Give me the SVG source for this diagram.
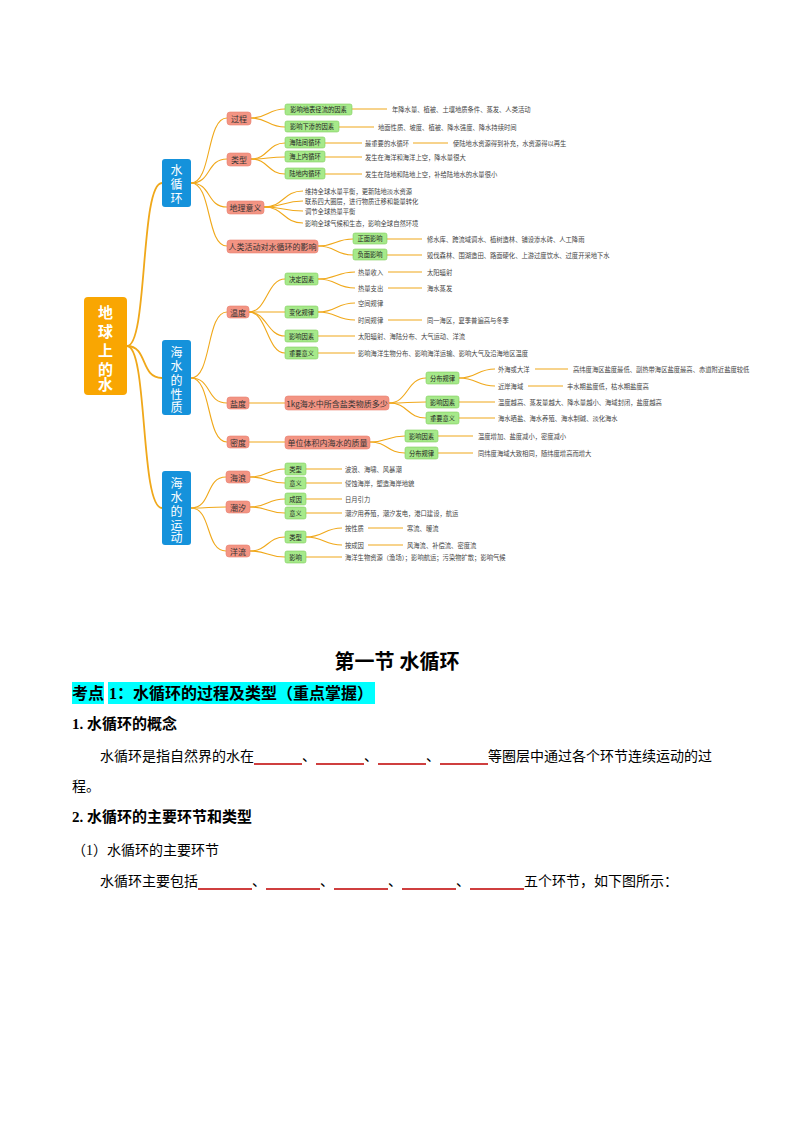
<svg xmlns="http://www.w3.org/2000/svg" width="794" height="1123" viewBox="0 0 794 1123">
<style>
.bg{fill:#fff}
.c{fill:none;stroke:#f0a81a;stroke-width:1.1}
.c2{fill:none;stroke:#f0a81a;stroke-width:1.8}
.root{fill:#f9a602}
.l1{fill:#1592db}
.l2{fill:#f39483;stroke:#e88070;stroke-width:0.6}
.l3{fill:#a6e98a;stroke:#7fcf5d;stroke-width:0.6}
text{font-family:"Noto Sans CJK SC","Liberation Sans",sans-serif}
.tr{fill:#fff;font-size:15px;font-weight:bold;text-anchor:middle}
.t1{fill:#fff;font-size:12px;text-anchor:middle}
.t2{fill:#333;font-size:8px;text-anchor:middle;dominant-baseline:central}
.t3{fill:#222;font-size:6.3px;text-anchor:middle;dominant-baseline:central}
.lf{fill:#444;font-size:6.3px;dominant-baseline:central}
.h{font-family:"Liberation Serif","Noto Sans CJK SC",serif;font-weight:bold;fill:#000}
.p{font-family:"Liberation Serif","Noto Sans CJK SC",serif;fill:#000;font-size:14px}
.u{stroke:#c00000;stroke-width:1.5}
</style>
<rect class="bg" width="794" height="1123"/>
<g id="connectors">
<path class="c2" d="M127 346 C148 346,140 183,162 183"/>
<path class="c2" d="M127 346 C148 346,140 378,162 378"/>
<path class="c2" d="M127 346 C148 346,140 508,162 508"/>
<path class="c" d="M191 183 C212 183,206 118,227 118"/>
<path class="c" d="M191 183 C212 183,206 159,227 159"/>
<path class="c" d="M191 183 C212 183,206 207,227 207"/>
<path class="c" d="M191 183 C212 183,206 246,227 246"/>
<path class="c" d="M251 118 C268 118,268 109,285 109"/>
<path class="c" d="M251 118 C268 118,268 127,285 127"/>
<path class="c" d="M251 159 C268 159,268 143,285 143"/>
<path class="c" d="M251 159 C268 159,268 157,285 157"/>
<path class="c" d="M251 159 C268 159,268 174,285 174"/>
<path class="c" d="M264 207 C284 207,283 191,303 191"/>
<path class="c" d="M264 207 C284 207,283 201,303 201"/>
<path class="c" d="M264 207 C284 207,283 211,303 211"/>
<path class="c" d="M264 207 C284 207,283 223,303 223"/>
<path class="c" d="M318 246 C336 246,335 239,353 239"/>
<path class="c" d="M318 246 C336 246,335 255,353 255"/>
<path class="c" d="M191 378 C212 378,206 312,227 312"/>
<path class="c" d="M191 378 C212 378,206 403,227 403"/>
<path class="c" d="M191 378 C212 378,206 442,227 442"/>
<path class="c" d="M249 312 C267 312,267 279,285 279"/>
<path class="c" d="M249 312 C267 312,267 312,285 312"/>
<path class="c" d="M249 312 C267 312,267 336,285 336"/>
<path class="c" d="M249 312 C267 312,267 353,285 353"/>
<path class="c" d="M318 279 C337 279,336 272,355 272"/>
<path class="c" d="M318 279 C337 279,336 288,355 288"/>
<path class="c" d="M318 312 C337 312,336 303,355 303"/>
<path class="c" d="M318 312 C337 312,336 320,355 320"/>
<path class="c" d="M249 403 L285 403"/>
<path class="c" d="M389 403 C408 403,407 378,426 378"/>
<path class="c" d="M389 403 C408 403,407 402,426 402"/>
<path class="c" d="M389 403 C408 403,407 418,426 418"/>
<path class="c" d="M459 378 C477 378,477 369,495 369"/>
<path class="c" d="M459 378 C477 378,477 386,495 386"/>
<path class="c" d="M249 442 L285 442"/>
<path class="c" d="M370 442 C388 442,387 436,405 436"/>
<path class="c" d="M370 442 C388 442,387 453,405 453"/>
<path class="c" d="M191 508 C212 508,205 477,226 477"/>
<path class="c" d="M191 508 C212 508,205 507,226 507"/>
<path class="c" d="M191 508 C212 508,205 551,226 551"/>
<path class="c" d="M250 477 C268 477,267 469,285 469"/>
<path class="c" d="M250 477 C268 477,267 483,285 483"/>
<path class="c" d="M250 507 C268 507,267 499,285 499"/>
<path class="c" d="M250 507 C268 507,267 513,285 513"/>
<path class="c" d="M250 551 C268 551,267 537,285 537"/>
<path class="c" d="M250 551 C268 551,267 557,285 557"/>
<path class="c" d="M306 537 C324 537,324 528,342 528"/>
<path class="c" d="M306 537 C324 537,324 545,342 545"/>
<path class="c" d="M352 109 H387 M339 127 H374 M325 143 H362 M413 143 H448 M325 157 H362 M325 174 H362 M387 239 H422 M387 255 H422 M388 272 H422 M388 288 H422 M388 320 H422 M318 336 H355 M318 353 H355 M535 369 H568 M528 386 H563 M459 402 H495 M459 418 H495 M438 436 H473 M438 453 H473 M306 469 H342 M306 483 H342 M306 499 H342 M306 513 H342 M306 557 H342 M368 528 H403 M368 545 H403"/>
</g>
<g id="root"><rect class="root" x="84" y="297" width="43" height="98" rx="4"/>
<text class="tr" x="105.5" y="318">地</text><text class="tr" x="105.5" y="337">球</text><text class="tr" x="105.5" y="356">上</text><text class="tr" x="105.5" y="375">的</text><text class="tr" x="105.5" y="392" dy="-2">水</text></g>
<g id="n-shuixunhuan"><rect class="l1" x="162" y="159" width="29" height="48" rx="3"/><text class="t1" x="176.5" y="175">水</text><text class="t1" x="176.5" y="189">循</text><text class="t1" x="176.5" y="203">环</text></g>
<g id="n-xingzhi"><rect class="l1" x="162" y="340" width="29" height="75" rx="3"/><text class="t1" x="176.5" y="357">海</text><text class="t1" x="176.5" y="371">水</text><text class="t1" x="176.5" y="385">的</text><text class="t1" x="176.5" y="399">性</text><text class="t1" x="176.5" y="413" dy="-1">质</text></g>
<g id="n-yundong"><rect class="l1" x="162" y="471" width="29" height="74" rx="3"/><text class="t1" x="176.5" y="488">海</text><text class="t1" x="176.5" y="502">水</text><text class="t1" x="176.5" y="516">的</text><text class="t1" x="176.5" y="530">运</text><text class="t1" x="176.5" y="543" dy="-1">动</text></g>
<g id="l2">
<rect class="l2" x="227" y="112" width="24" height="13" rx="3"/><text class="t2" x="239" y="118.5">过程</text>
<rect class="l2" x="227" y="153" width="24" height="13" rx="3"/><text class="t2" x="239" y="159.5">类型</text>
<rect class="l2" x="227" y="201" width="37" height="13" rx="3"/><text class="t2" x="245.5" y="207.5">地理意义</text>
<rect class="l2" x="227" y="240" width="91" height="13" rx="3"/><text class="t2" x="272.5" y="246.5">人类活动对水循环的影响</text>
<rect class="l2" x="227" y="306" width="22" height="12" rx="3"/><text class="t2" x="238" y="312">温度</text>
<rect class="l2" x="227" y="397" width="22" height="12" rx="3"/><text class="t2" x="238" y="403">盐度</text>
<rect class="l2" x="227" y="436" width="22" height="12" rx="3"/><text class="t2" x="238" y="442">密度</text>
<rect class="l2" x="285" y="396" width="104" height="14" rx="3"/><text class="t2" x="337" y="403">1kg海水中所含盐类物质多少</text>
<rect class="l2" x="285" y="436" width="85" height="13" rx="3"/><text class="t2" x="327.5" y="442.5">单位体积内海水的质量</text>
<rect class="l2" x="226" y="471" width="24" height="12" rx="3"/><text class="t2" x="238" y="477">海浪</text>
<rect class="l2" x="226" y="501" width="24" height="12" rx="3"/><text class="t2" x="238" y="507">潮汐</text>
<rect class="l2" x="226" y="545" width="24" height="12" rx="3"/><text class="t2" x="238" y="551">洋流</text>
</g>
<g id="l3">
<rect class="l3" x="285" y="104" width="67" height="11" rx="2"/><text class="t3" x="318.5" y="109.5">影响地表径流的因素</text>
<rect class="l3" x="285" y="121" width="54" height="11" rx="2"/><text class="t3" x="312" y="126.5">影响下渗的因素</text>
<rect class="l3" x="285" y="137" width="40" height="11" rx="2"/><text class="t3" x="305" y="142.5">海陆间循环</text>
<rect class="l3" x="285" y="151" width="40" height="11" rx="2"/><text class="t3" x="305" y="156.5">海上内循环</text>
<rect class="l3" x="285" y="168" width="40" height="11" rx="2"/><text class="t3" x="305" y="173.5">陆地内循环</text>
<rect class="l3" x="353" y="233" width="34" height="11" rx="2"/><text class="t3" x="370" y="238.5">正面影响</text>
<rect class="l3" x="353" y="249" width="34" height="11" rx="2"/><text class="t3" x="370" y="254.5">负面影响</text>
<rect class="l3" x="285" y="273" width="33" height="12" rx="2"/><text class="t3" x="301.5" y="279">决定因素</text>
<rect class="l3" x="285" y="306" width="33" height="12" rx="2"/><text class="t3" x="301.5" y="312">变化规律</text>
<rect class="l3" x="285" y="330" width="33" height="12" rx="2"/><text class="t3" x="301.5" y="336">影响因素</text>
<rect class="l3" x="285" y="347" width="33" height="12" rx="2"/><text class="t3" x="301.5" y="353">重要意义</text>
<rect class="l3" x="426" y="372" width="33" height="12" rx="2"/><text class="t3" x="442.5" y="378">分布规律</text>
<rect class="l3" x="426" y="396" width="33" height="12" rx="2"/><text class="t3" x="442.5" y="402">影响因素</text>
<rect class="l3" x="426" y="412" width="33" height="12" rx="2"/><text class="t3" x="442.5" y="418">重要意义</text>
<rect class="l3" x="405" y="430" width="33" height="12" rx="2"/><text class="t3" x="421.5" y="436">影响因素</text>
<rect class="l3" x="405" y="447" width="33" height="12" rx="2"/><text class="t3" x="421.5" y="453">分布规律</text>
<rect class="l3" x="285" y="463" width="21" height="12" rx="2"/><text class="t3" x="295.5" y="469">类型</text>
<rect class="l3" x="285" y="477" width="21" height="12" rx="2"/><text class="t3" x="295.5" y="483">意义</text>
<rect class="l3" x="285" y="493" width="21" height="12" rx="2"/><text class="t3" x="295.5" y="499">成因</text>
<rect class="l3" x="285" y="507" width="21" height="12" rx="2"/><text class="t3" x="295.5" y="513">意义</text>
<rect class="l3" x="285" y="531" width="21" height="12" rx="2"/><text class="t3" x="295.5" y="537">类型</text>
<rect class="l3" x="285" y="551" width="21" height="12" rx="2"/><text class="t3" x="295.5" y="557">影响</text>
</g>
<g id="leaves">
<text class="lf" x="392" y="109">年降水量、植被、土壤地质条件、蒸发、人类活动</text>
<text class="lf" x="378" y="127">地面性质、坡度、植被、降水强度、降水持续时间</text>
<text class="lf" x="365" y="143">最重要的水循环</text>
<text class="lf" x="453" y="143">使陆地水资源得到补充，水资源得以再生</text>
<text class="lf" x="365" y="157">发生在海洋和海洋上空，降水量很大</text>
<text class="lf" x="365" y="174">发生在陆地和陆地上空，补给陆地水的水量很小</text>
<text class="lf" x="305" y="191">维持全球水量平衡，更新陆地淡水资源</text>
<text class="lf" x="305" y="201">联系四大圈层，进行物质迁移和能量转化</text>
<text class="lf" x="305" y="211">调节全球热量平衡</text>
<text class="lf" x="305" y="223">影响全球气候和生态，影响全球自然环境</text>
<text class="lf" x="427" y="239">修水库、跨流域调水、植树造林、铺设渗水砖、人工降雨</text>
<text class="lf" x="427" y="255">毁伐森林、围湖造田、路面硬化、上游过度饮水、过度开采地下水</text>
<text class="lf" x="358" y="272">热量收入</text>
<text class="lf" x="358" y="288">热量支出</text>
<text class="lf" x="427" y="272">太阳辐射</text>
<text class="lf" x="427" y="288">海水蒸发</text>
<text class="lf" x="358" y="303">空间规律</text>
<text class="lf" x="358" y="320">时间规律</text>
<text class="lf" x="427" y="320">同一海区，夏季普遍高与冬季</text>
<text class="lf" x="358" y="336">太阳辐射、海陆分布、大气运动、洋流</text>
<text class="lf" x="358" y="353">影响海洋生物分布、影响海洋运输、影响大气及沿海地区温度</text>
<text class="lf" x="498" y="369">外海或大洋</text>
<text class="lf" x="573" y="369">高纬度海区盐度最低、副热带海区盐度最高、赤道附近盐度较低</text>
<text class="lf" x="498" y="386">近岸海域</text>
<text class="lf" x="567" y="386">丰水期盐度低，枯水期盐度高</text>
<text class="lf" x="498" y="402">温度越高、蒸发量越大、降水量越小、海域封闭，盐度越高</text>
<text class="lf" x="498" y="418">海水晒盐、海水养殖、海水制碱、淡化海水</text>
<text class="lf" x="478" y="436">温度增加、盐度减小，密度减小</text>
<text class="lf" x="478" y="453">同纬度海域大致相同，随纬度增高而增大</text>
<text class="lf" x="345" y="469">波浪、海啸、风暴潮</text>
<text class="lf" x="345" y="483">侵蚀海岸，塑造海岸地貌</text>
<text class="lf" x="345" y="499">日月引力</text>
<text class="lf" x="345" y="513">潮汐用养殖，潮汐发电，港口建设，航运</text>
<text class="lf" x="345" y="528">按性质</text>
<text class="lf" x="345" y="545">按成因</text>
<text class="lf" x="407" y="528">寒流、暖流</text>
<text class="lf" x="407" y="545">风海流、补偿流、密度流</text>
<text class="lf" x="345" y="557">海洋生物资源（渔场）；影响航运；污染物扩散；影响气候</text>
</g>
<g id="body">
<text class="h" x="397" y="669" font-size="20" text-anchor="middle">第一节  水循环</text>
<rect x="72" y="682" width="32" height="22" fill="#00ffff"/>
<rect x="108" y="682" width="267" height="22" fill="#00ffff"/>
<text class="h" x="72" y="699" font-size="16">考点</text>
<text class="h" x="109" y="699" font-size="16">1：水循环的过程及类型（重点掌握）</text>
<text class="h" x="72" y="729" font-size="15">1. 水循环的概念</text>
<text class="p" x="100" y="761">水循环是指自然界的水在</text>
<text class="p" x="302" y="761">、</text><text class="p" x="364" y="761">、</text><text class="p" x="426" y="761">、</text>
<text class="p" x="488" y="761">等圈层中通过各个环节连续运动的过</text>
<text class="p" x="72" y="791">程。</text>
<text class="h" x="72" y="822" font-size="15">2. 水循环的主要环节和类型</text>
<text class="p" x="72" y="855">（1）水循环的主要环节</text>
<text class="p" x="100" y="886">水循环主要包括</text>
<text class="p" x="252" y="886">、</text><text class="p" x="320" y="886">、</text><text class="p" x="388" y="886">、</text><text class="p" x="456" y="886">、</text>
<text class="p" x="524" y="886">五个环节，如下图所示：</text>
<path class="u" d="M254 764 H302 M316 764 H364 M378 764 H426 M440 764 H488 M198 889 H252 M266 889 H320 M334 889 H388 M402 889 H456 M470 889 H524"/>
</g>
</svg>
